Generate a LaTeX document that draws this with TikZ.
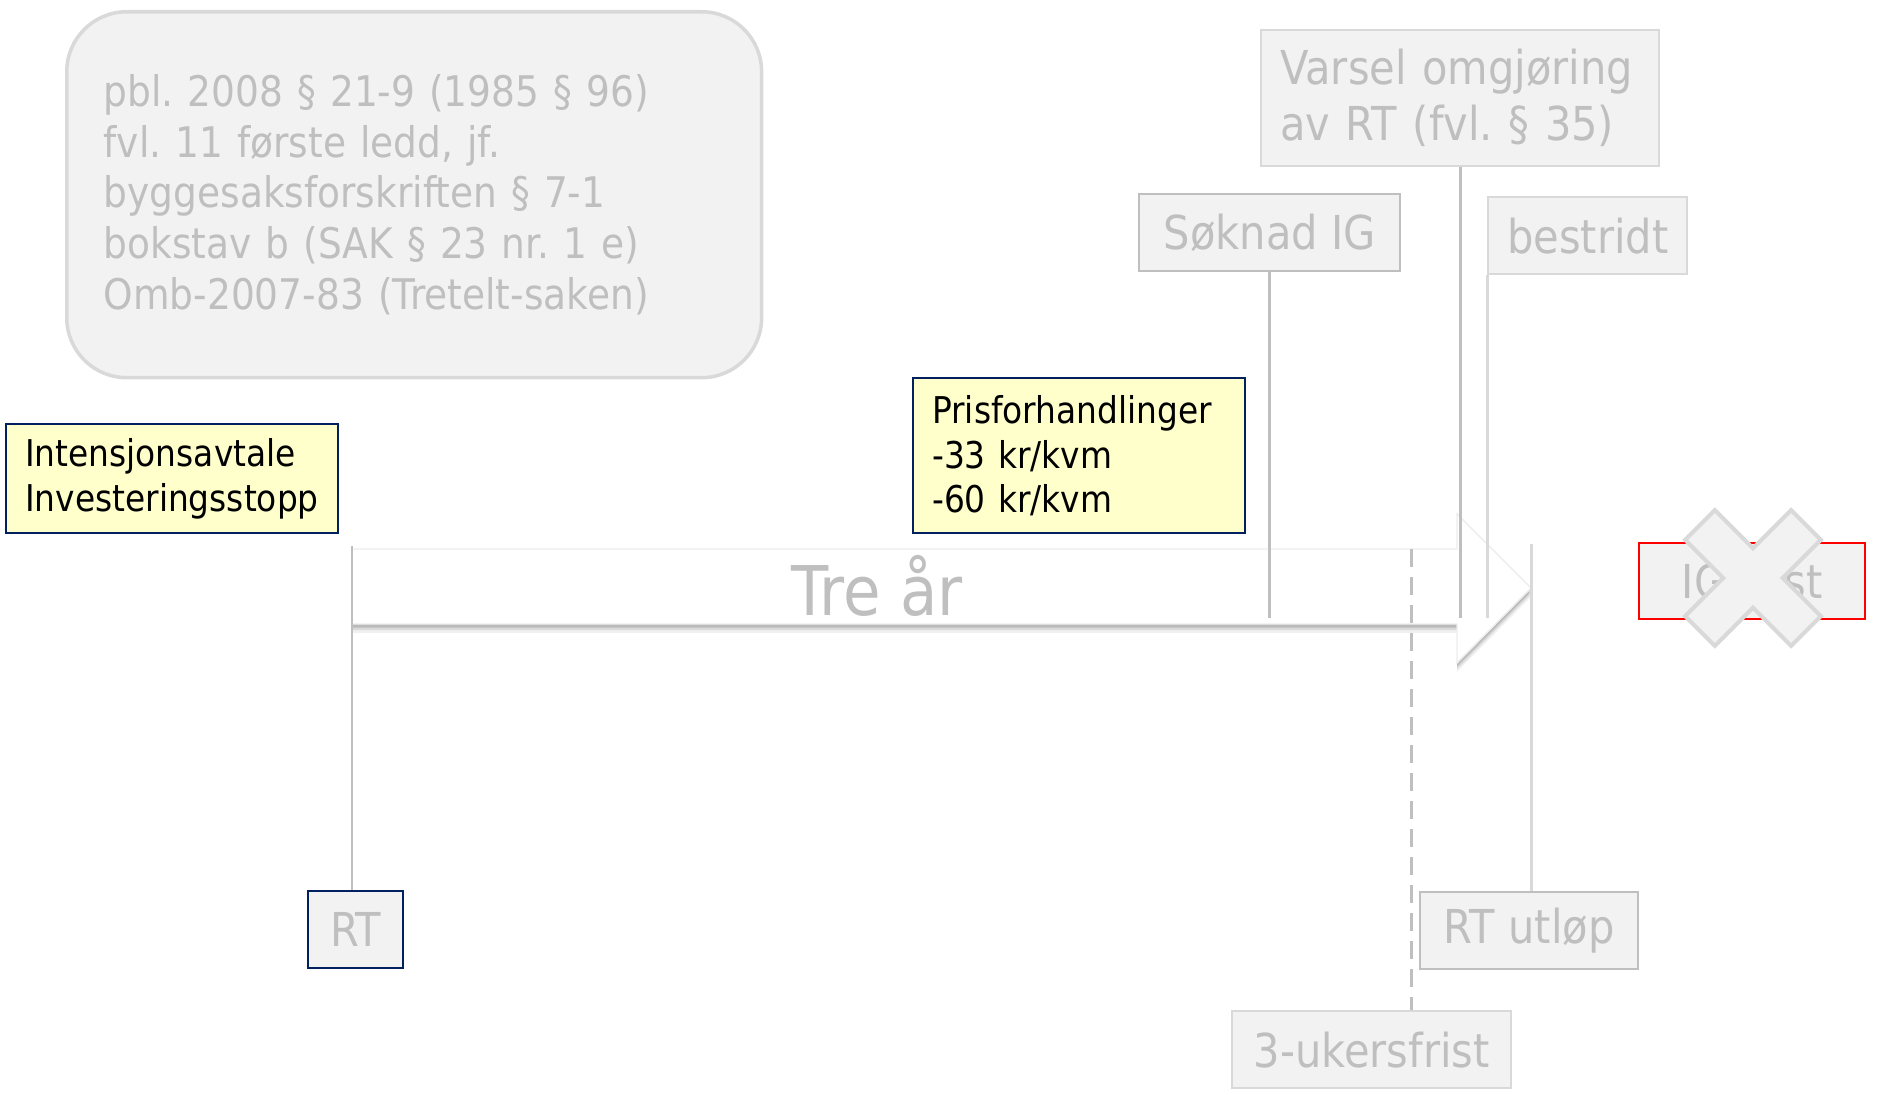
\documentclass[tikz,border=0pt]{standalone}
\usepackage{fontspec}
\setmainfont{DejaVu Sans}[FakeStretch=0.89]
\usetikzlibrary{shadows}
\definecolor{boxgray}{HTML}{F2F2F2}
\definecolor{linegray}{HTML}{D9D9D9}
\definecolor{textgray}{HTML}{BFBFBF}
\definecolor{navy}{HTML}{002060}
\definecolor{paleyellow}{HTML}{FFFFCC}
\frenchspacing
\begin{document}
\begin{tikzpicture}[x=0.02cm,y=-0.02cm,
    note/.style={draw=navy,line width=1.4pt,fill=paleyellow,anchor=north west,
      align=left,inner xsep=0.38cm,text width=5.88cm,minimum width=6.64cm,
      font=\fontsize{21}{25.3}\selectfont},
    event/.style={draw=linegray,line width=1.4pt,fill=boxgray,text=textgray,
      anchor=north west,inner sep=0pt,minimum height=1.54cm,
      font=\fontsize{26.6}{32}\selectfont},
    tick/.style={draw=textgray,line width=1.7pt}]
  \useasboundingbox (0,0) rectangle (1883,1095);
  % references
  \node[anchor=north west,draw=linegray,line width=2pt,fill=boxgray,
    rounded corners=1.2cm,minimum width=13.9cm,minimum height=7.32cm,
    text width=12.42cm,inner xsep=0.74cm,align=left,text=textgray,
    font=\fontsize{24}{29}\selectfont] (refs) at (65,10)
    {pbl. 2008 § 21-9 (1985 § 96)\\ fvl. 11 første ledd, jf.\\
     byggesaksforskriften § 7-1\\ bokstav b (SAK § 23 nr. 1 e)\\
     Omb-2007-83 (Tretelt-saken)};
  % notes
  \node[note,minimum height=2.18cm] (intent) at (5,423)
    {Intensjonsavtale\\ Investeringsstopp};
  \node[note,minimum height=3.1cm] (price) at (912,377)
    {Prisforhandlinger\\ -33 kr/kvm\\ -60 kr/kvm};
  % time arrow
  \filldraw[fill=white,draw=black!7,line width=0.8pt,
    drop shadow={shadow xshift=0pt,shadow yshift=-5pt,opacity=0.12},
    drop shadow={shadow xshift=0pt,shadow yshift=-3.5pt,opacity=0.2},
    drop shadow={shadow xshift=0pt,shadow yshift=-2pt,opacity=0.35}]
    (352,549) -- (1457,549) -- (1457,514) -- (1531,588) -- (1457,663)
    -- (1457,624) -- (352,624) -- cycle;
  \node[text=textgray,font=\fontsize{39}{46}\selectfont] (span) at (877,586) {Tre år};
  \coordinate (rtTop) at (352,546);
  \coordinate (shaftLow) at (0,618);
  \coordinate (dashTop) at (1411,549);
  \coordinate (tipTop) at (1531,544);
  % events
  \node[event,minimum width=7.96cm,minimum height=2.72cm,align=left,
    text width=7.2cm,inner xsep=0.38cm] (varsel) at (1260,29)
    {Varsel omgjøring\\ av RT (fvl. § 35)};
  \node[event,draw=textgray,minimum width=5.22cm] (soknad) at (1138,193) {Søknad IG};
  \node[event,minimum width=3.98cm] (bestridt) at (1487,196) {bestridt};
  \node[event,draw=navy,minimum width=1.9cm] (RT) at (307,890) {RT};
  \node[event,draw=textgray,minimum width=4.36cm] (utlop) at (1419,891) {RT utløp};
  \node[event,minimum width=5.58cm] (frist) at (1231,1010) {3-ukersfrist};
  \node[event,draw=red,minimum width=4.52cm,minimum height=1.52cm] (igfrist) at (1638,542) {IG-frist};
  % connectors
  \draw[tick] (rtTop) -- (rtTop |- RT.north);
  \draw[tick] (soknad.south) -- (soknad.south |- shaftLow);
  \draw[tick] (varsel.south) -- (varsel.south |- shaftLow);
  \draw[tick,draw=linegray] (bestridt.south west) -- (bestridt.south west |- shaftLow);
  \draw[tick,draw=linegray] (tipTop) -- (tipTop |- utlop.north);
  \draw[tick,dash pattern=on 0.36cm off 0.2cm] (dashTop) -- (dashTop |- frist.north);
  % cross over IG-frist
  \begin{scope}[shift={(1753,578)},rotate=45]
    \filldraw[fill=boxgray,draw=linegray,line width=2.3pt]
      (-21,-75) -- (21,-75) -- (21,-21) -- (75,-21) -- (75,21) -- (21,21)
      -- (21,75) -- (-21,75) -- (-21,21) -- (-75,21) -- (-75,-21) -- (-21,-21) -- cycle;
  \end{scope}
\end{tikzpicture}
\end{document}
